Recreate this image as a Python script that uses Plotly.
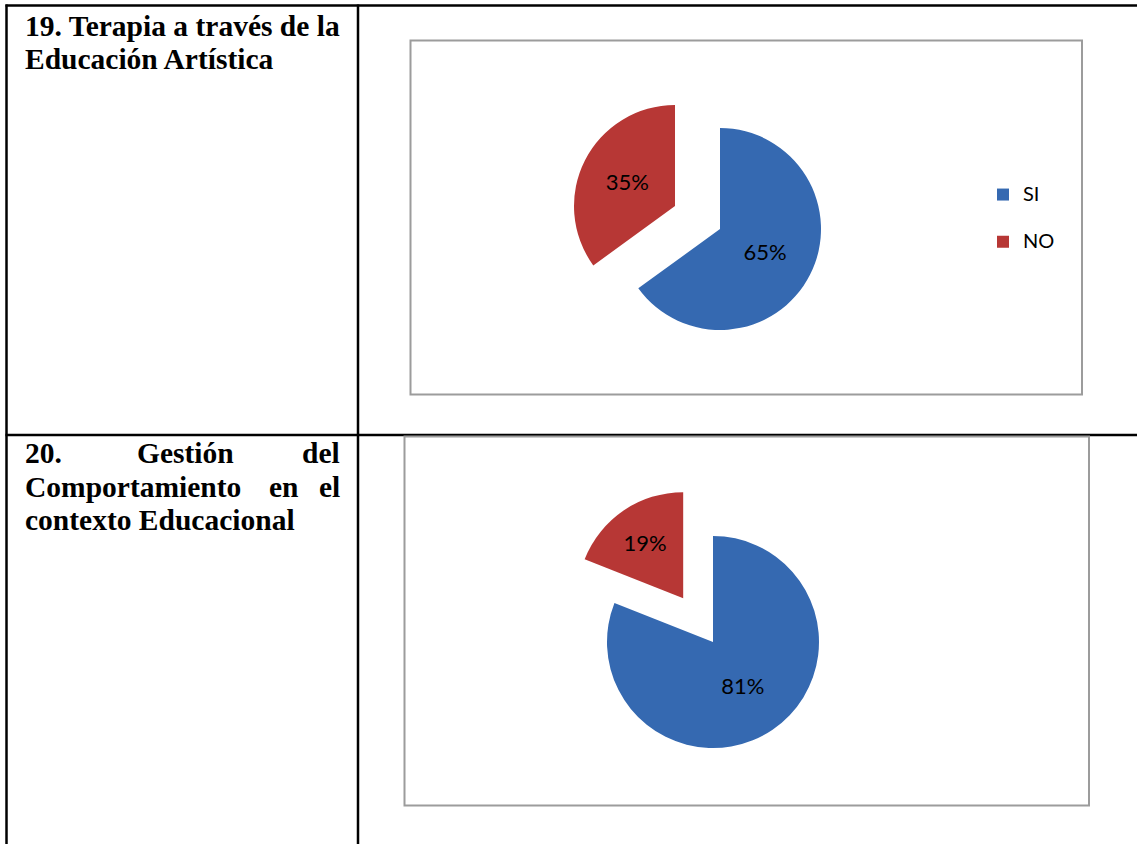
import plotly.graph_objects as go

W, H = 1137, 844

# ---- data ----
categories = ["SI", "NO"]
values_19 = [65, 35]
values_20 = [81, 19]
slice_colors = ["#3569b1", "#b73735"]
pull_19 = [0, 0.5]
pull_20 = [0, 0.5]

row1_lines = ["19. Terapia a través de la", "Educación Artística"]
row2_words = [["20.", "Gestión", "del"], ["Comportamiento", "en", "el"], ["contexto Educacional"]]


def px(x):
    return x / W


def py(y):
    return 1 - y / H


fig = go.Figure()

legend_labels = ["<span style='font-size:20px'>" + c + "</span><br> " for c in categories]

fig.add_trace(go.Pie(
    labels=legend_labels, values=values_19, sort=False, direction="clockwise", rotation=0,
    pull=pull_19, marker=dict(colors=slice_colors, line=dict(width=0)),
    textinfo="percent", textposition="inside", insidetextorientation="horizontal",
    textfont=dict(family="Lato", size=22, color="#000000"),
    domain=dict(x=[px(568.5), px(871.5)], y=[py(380.5), py(77.5)]),
    legend="legend", hoverinfo="skip",
))

fig.add_trace(go.Pie(
    labels=legend_labels, values=values_20, sort=False, direction="clockwise", rotation=0,
    pull=pull_20, marker=dict(colors=slice_colors, line=dict(width=0)),
    textinfo="percent", textposition="inside", insidetextorientation="horizontal",
    textfont=dict(family="Lato", size=22, color="#000000"),
    domain=dict(x=[px(554), px(872)], y=[py(801), py(483)]),
    legend="legend2", hoverinfo="skip",
))

shapes = []
black = dict(color="#000000", width=2.5)
# table lines
shapes.append(dict(type="line", xref="paper", yref="paper", x0=px(5.5), x1=px(1137), y0=py(5.5), y1=py(5.5), line=black))
shapes.append(dict(type="line", xref="paper", yref="paper", x0=px(6.5), x1=px(6.5), y0=py(4.5), y1=py(844), line=black))
shapes.append(dict(type="line", xref="paper", yref="paper", x0=px(358), x1=px(358), y0=py(4.5), y1=py(844), line=black))
shapes.append(dict(type="line", xref="paper", yref="paper", x0=px(5.5), x1=px(1137), y0=py(435), y1=py(435), line=black))
# chart boxes
gray = dict(color="#9c9c9c", width=2)
shapes.append(dict(type="rect", xref="paper", yref="paper", x0=px(410.5), x1=px(1082), y0=py(394.5), y1=py(40.5), line=gray))
shapes.append(dict(type="rect", xref="paper", yref="paper", x0=px(404.5), x1=px(1089), y0=py(805.5), y1=py(436.5), line=gray))

annotations = []
serif = dict(family="Liberation Serif", size=29.5, color="#000000")
row1_y = [26, 59]
for line, yy in zip(row1_lines, row1_y):
    annotations.append(dict(text="<b>" + line + "</b>", x=px(23), y=py(yy), xref="paper", yref="paper",
                            xanchor="left", yanchor="middle", showarrow=False, font=serif))

row2_y = [453, 487, 520]
row2_pos = [[(23, "left"), (135, "left"), (342, "right")],
            [(23, "left"), (267, "left"), (342, "right")],
            [(23, "left")]]
for words, pos, yy in zip(row2_words, row2_pos, row2_y):
    for w, (xx, anc) in zip(words, pos):
        annotations.append(dict(text="<b>" + w + "</b>", x=px(xx), y=py(yy), xref="paper", yref="paper",
                                xanchor=anc, yanchor="middle", showarrow=False, font=serif))

legend_common = dict(
    orientation="v", xanchor="left", yanchor="top", valign="top",
    bgcolor="rgba(0,0,0,0)", borderwidth=0,
    font=dict(family="Lato", size=17, color="#000000"),
)

fig.update_layout(
    width=W, height=H,
    margin=dict(l=0, r=0, t=0, b=0),
    paper_bgcolor="#ffffff", plot_bgcolor="#ffffff",
    showlegend=True,
    legend=dict(x=px(983), y=py(177), **legend_common),
    legend2=dict(x=px(989), y=py(581), **legend_common),
    shapes=shapes,
    annotations=annotations,
)

fig.write_html("out.html", config={"displayModeBar": False},
               post_script="document.body.style.margin='0';document.body.style.overflow='hidden';")
